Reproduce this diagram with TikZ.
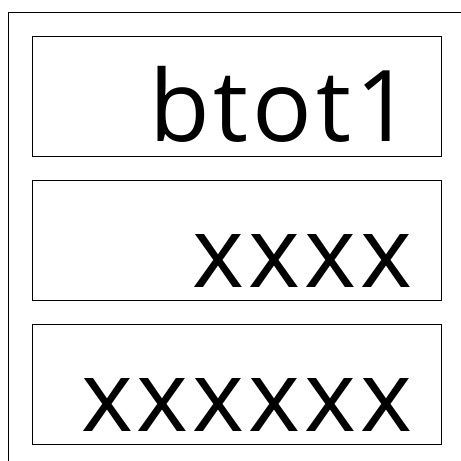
\documentclass[tikz,border=0pt]{standalone}
\usepackage{fontspec}
\newfontfamily\cellfamily[LetterSpace=4]{Open Sans}
\newcommand{\cellfont}{\cellfamily\fontsize{99}{99}\selectfont}

\begin{document}
\begin{tikzpicture}[x=1pt, y=1pt,
	cell/.style={ draw, line width=0.8pt, minimum width=409pt, minimum height=120pt, inner sep=0pt },
	celltext/.style={ anchor=base east, inner sep=0pt, font=\cellfont }
]
\useasboundingbox (0,0) rectangle (461,461);

% outer frame, open to the right and bottom
\coordinate (fr) at (461,449);
\coordinate (fc) at (8,449);
\coordinate (fb) at (8,0);
\draw[line width=0.8pt] (fr) -- (fc) -- (fb);

\node[cell] at (236.5,365) (c1) {};
\node[cell] at (236.5,221) (c2) {};
\node[cell] at (236.5,77) (c3) {};

\node[celltext] at ([xshift=-29pt,yshift=15pt]c1.south east) (t1) {btot1};
\node[celltext] at ([xshift=-29pt,yshift=13pt]c2.south east) (t2) {xxxx};
\node[celltext] at ([xshift=-29pt,yshift=13pt]c3.south east) (t3) {xxxxxx};

\end{tikzpicture}
\end{document}
